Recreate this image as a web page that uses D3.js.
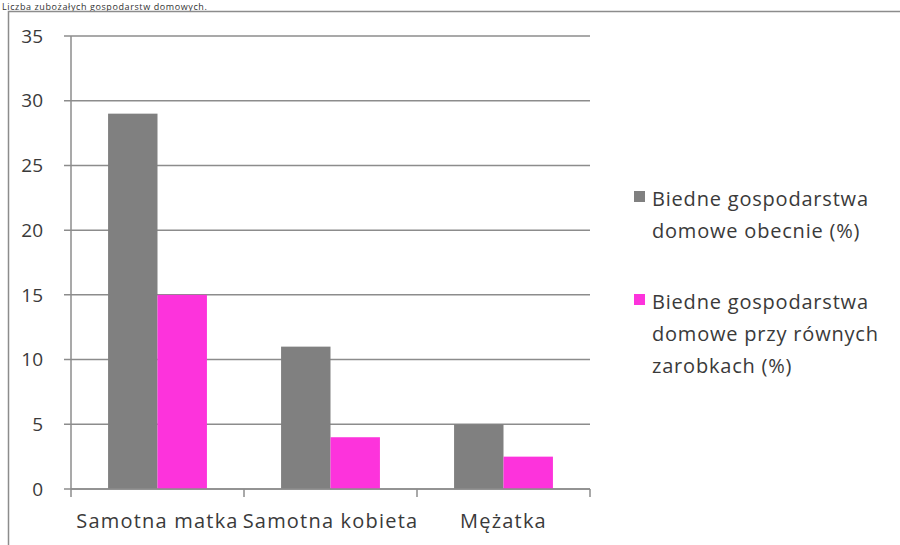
<!DOCTYPE html>
<html lang="pl">
<head>
<meta charset="utf-8">
<title>Biedne gospodarstwa domowe</title>
<script src="https://cdn.jsdelivr.net/npm/d3@7"></script>
<style>
  html, body { margin: 0; padding: 0; background: #fff; }
  svg { display: block; font-family: "Open Sans", sans-serif; }
  .tick-label { fill: #3a3a3a; font-size: 19px; }
  .cat-label { fill: #3a3a3a; font-size: 20px; letter-spacing: 1.2px; }
  .legend-label { fill: #3a3a3a; font-size: 20px; letter-spacing: 0.8px; }
</style>
</head>
<body>
<div id="chart"></div>
<script>
// data
const categories = ["Samotna matka", "Samotna kobieta", "Mężatka"];
const seriesNames = [
  ["Biedne gospodarstwa", "domowe obecnie (%)"],
  ["Biedne gospodarstwa", "domowe przy równych", "zarobkach (%)"]
];
const obecnie = [29, 11, 5];
const rowneZarobki = [15, 4, 2.5];
const yTicks = [0, 5, 10, 15, 20, 25, 30, 35];
const colors = ["#808080", "#fd33dc"];
const caption = "Liczba zubożałych gospodarstw domowych.";

const width = 900, height = 545;
const margin = {left: 71, right: 310, top: 36, bottom: 56};

const svg = d3.select("#chart").append("svg")
    .attr("width", width)
    .attr("height", height);

// caption above the frame (cut in the screenshot, kept whole here)
svg.append("text")
    .attr("x", 2)
    .attr("y", 10)
    .attr("fill", "#333")
    .style("font-size", "9px")
    .style("letter-spacing", "0.6px")
    .text(caption);

// chart frame (top + left edges only visible)
svg.append("path")
    .attr("d", `M8.5,${height} V11.5 H${width}`)
    .attr("fill", "none")
    .attr("stroke", "#8c8c8c")
    .attr("stroke-width", 1.5);

const x = d3.scaleBand()
    .domain(categories)
    .range([margin.left, width - margin.right]);

const xSeries = d3.scaleBand()
    .domain([0, 1])
    .range([0, x.bandwidth()])
    .paddingOuter(0.75);

const y = d3.scaleLinear()
    .domain([0, 35])
    .range([height - margin.bottom, margin.top]);

// gridlines + y ticks
const grid = svg.append("g");
grid.selectAll("line")
    .data(yTicks)
    .join("line")
    .attr("x1", margin.left - 7)
    .attr("x2", width - margin.right)
    .attr("y1", d => y(d))
    .attr("y2", d => y(d))
    .attr("stroke", "#8c8c8c")
    .attr("stroke-width", 1.5);

grid.selectAll("text")
    .data(yTicks)
    .join("text")
    .attr("class", "tick-label")
    .attr("x", 43)
    .attr("y", d => y(d))
    .attr("dy", "0.35em")
    .attr("text-anchor", "end")
    .text(d => d);

// bars
const series = [obecnie, rowneZarobki];
series.forEach((vals, si) => {
  svg.append("g")
      .selectAll("rect")
      .data(vals)
      .join("rect")
      .attr("x", (d, i) => x(categories[i]) + xSeries(si))
      .attr("width", xSeries.bandwidth())
      .attr("y", d => y(d))
      .attr("height", d => y(0) - y(d))
      .attr("fill", colors[si]);
});

// axes lines
svg.append("line")
    .attr("x1", margin.left).attr("x2", margin.left)
    .attr("y1", y(35)).attr("y2", y(0) + 8)
    .attr("stroke", "#8c8c8c").attr("stroke-width", 1.5);

svg.append("line")
    .attr("x1", margin.left).attr("x2", width - margin.right)
    .attr("y1", y(0)).attr("y2", y(0))
    .attr("stroke", "#8c8c8c").attr("stroke-width", 1.5);

const xTickPos = categories.map(c => x(c) + x.bandwidth());
svg.append("g")
    .selectAll("line")
    .data(xTickPos)
    .join("line")
    .attr("x1", d => d).attr("x2", d => d)
    .attr("y1", y(0)).attr("y2", y(0) + 8)
    .attr("stroke", "#8c8c8c").attr("stroke-width", 1.5);

svg.append("g")
    .selectAll("text")
    .data(categories)
    .join("text")
    .attr("class", "cat-label")
    .attr("x", d => x(d) + x.bandwidth() / 2)
    .attr("y", 528)
    .attr("text-anchor", "middle")
    .text(d => d);

// legend
const legendTop = [206, 309];
const legend = svg.append("g");
seriesNames.forEach((lines, si) => {
  legend.append("rect")
      .attr("x", 634)
      .attr("y", legendTop[si] - 15)
      .attr("width", 11)
      .attr("height", 11)
      .attr("fill", colors[si]);
  legend.append("text")
      .attr("class", "legend-label")
      .selectAll("tspan")
      .data(lines)
      .join("tspan")
      .attr("x", 652)
      .attr("y", (d, i) => legendTop[si] + i * 32)
      .text(d => d);
});
</script>
</body>
</html>
